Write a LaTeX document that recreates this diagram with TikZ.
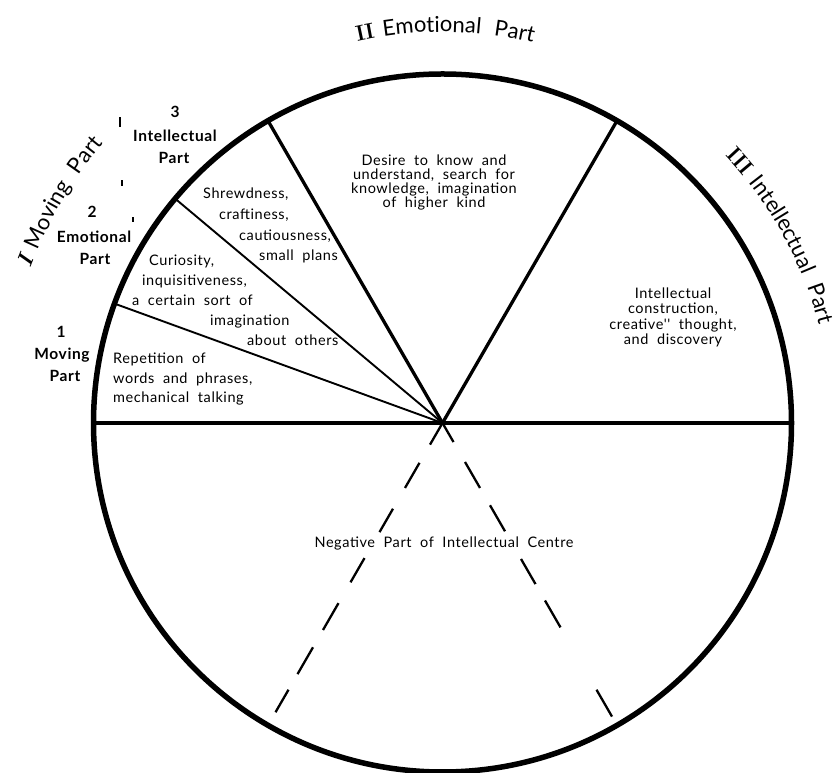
\documentclass[tikz,border=0pt]{standalone}
\usepackage{fontspec}
\newfontfamily\gill[LetterSpace=4,WordSpace=1.1]{Lato}
\newfontfamily\curvefam[LetterSpace=4,WordSpace=2]{Lato}
\usetikzlibrary{calc,decorations.text}
\tikzset{
  rim/.style={line width=5.5pt},
  mainspoke/.style={line width=3.3pt},
  thinspoke/.style={line width=1.9pt},
  negline/.style={line width=2.3pt},
  inner/.style={font=\gill\fontsize{14.5}{15}\selectfont, inner sep=0pt},
  lab/.style={font=\gill\bfseries\fontsize{15.5}{16}\selectfont, inner sep=0pt, anchor=base},
  tick/.style={line width=1.4pt},
}
\newcommand{\curvefont}{\curvefam\fontsize{22}{24}\selectfont}
\newcommand{\numfont}{\rmfamily\bfseries\fontsize{22}{24}\selectfont}
\begin{document}
\begin{tikzpicture}[x=1pt,y=1pt]
\useasboundingbox (0,0) rectangle (840,773);
\coordinate (c) at (442.5,350);
\draw[rim] (c) circle[radius=349];
% solid spokes
\coordinate (w) at ($(c)+(180:349)$);
\coordinate (e) at ($(c)+(0:349)$);
\coordinate (p60) at ($(c)+(60:349)$);
\coordinate (p120) at ($(c)+(120:349)$);
\coordinate (p140) at ($(c)+(140:349)$);
\coordinate (p160) at ($(c)+(160:349)$);
\draw[mainspoke] (w) -- (e);
\draw[mainspoke] (c) -- (p60);
\draw[mainspoke] (c) -- (p120);
\draw[thinspoke] (c) -- (p140);
\draw[thinspoke] (c) -- (p160);
% dashed lines
\coordinate (dl) at ($(c)+(-120:334)$);
\coordinate (dr) at ($(c)+(-60:339)$);
\draw[negline, dash pattern=on 25pt off 21pt on 29pt off 24pt on 27pt off 30pt on 28pt off 24pt on 31pt off 20pt on 31pt off 18pt on 26pt off 50pt] (c) -- (dl);
\draw[negline, dash pattern=on 22pt off 23pt on 30pt off 20pt on 30pt off 32pt on 29pt off 19pt on 31pt off 72pt on 31pt off 50pt] (c) -- (dr);
% inner texts
\node[inner, anchor=base] (d1) at (434,607) {Desire to know and};
\node[inner, anchor=base] (d2) at (434,593) {understand, search for};
\node[inner, anchor=base] (d3) at (434,579) {knowledge, imagination};
\node[inner, anchor=base] (d4) at (434,565) {of higher kind};
\node[inner, anchor=base] (i1) at (673,474.5) {Intellectual};
\node[inner, anchor=base] (i2) at (673,459.5) {construction,};
\node[inner, anchor=base] (i3) at (673,443.5) {creative'' thought,};
\node[inner, anchor=base] (i4) at (673,428.5) {and discovery};
\node[inner, anchor=base west] (s1) at (203,574.5) {Shrewdness,};
\node[inner, anchor=base west] (s2) at (219,553.5) {craftiness,};
\node[inner, anchor=base west] (s3) at (239,532.5) {cautiousness,};
\node[inner, anchor=base west] (s4) at (259,512.5) {small plans};
\node[inner, anchor=base west] (q1) at (149,507.5) {Curiosity,};
\node[inner, anchor=base west] (q2) at (142,487.5) {inquisitiveness,};
\node[inner, anchor=base west] (q3) at (132,467.5) {a certain sort of};
\node[inner, anchor=base west] (q4) at (210,447.5) {imagination};
\node[inner, anchor=base west] (q5) at (247,427.5) {about others};
\node[inner, anchor=base west] (r1) at (113,409.5) {Repetition of};
\node[inner, anchor=base west] (r2) at (113,389.5) {words and phrases,};
\node[inner, anchor=base west] (r3) at (113,370.5) {mechanical talking};
\node[inner, anchor=base] (neg) at (444,225.5) {Negative Part of Intellectual Centre};
% side labels
\node[lab] (l3a) at (175,655) {3};
\node[lab] (l3b) at (175,631) {Intellectual};
\node[lab] (l3c) at (174,609) {Part};
\node[lab] (l2a) at (92,555) {2};
\node[lab] (l2b) at (94,530) {Emotional};
\node[lab] (l2c) at (95,508) {Part};
\node[lab] (l1a) at (61,435) {1};
\node[lab] (l1b) at (62,413) {Moving};
\node[lab] (l1c) at (65,391) {Part};
% small marks
\coordinate (t1a) at (120,646); \coordinate (t1b) at (120,656);
\coordinate (t2a) at (122,587); \coordinate (t2b) at (122,593);
\coordinate (t3a) at (133,551); \coordinate (t3b) at (133,556);
\draw[tick] (t1a) -- (t1b);
\draw[tick] (t2a) -- (t2b);
\draw[tick] (t3a) -- (t3b);
% curved titles
\path[decorate, decoration={text along path, text align=center,
  text={|\numfont|II |\curvefont|Emotional Part}}]
  ($(c)+(119.6:391)$) arc[start angle=119.6, end angle=59.6, radius=391];
\path[decorate, decoration={text along path, text align=center,
  text={|\numfont\itshape|I |\curvefont|Moving Part}}]
  ($(c)+(180:440)$) arc[start angle=180, end angle=120, radius=440];
\path[decorate, decoration={text along path, text align=center,
  text={|\numfont|III |\curvefont|Intellectual Part}}]
  ($(c)+(59:389)$) arc[start angle=59, end angle=-1, radius=389];
\end{tikzpicture}
\end{document}
